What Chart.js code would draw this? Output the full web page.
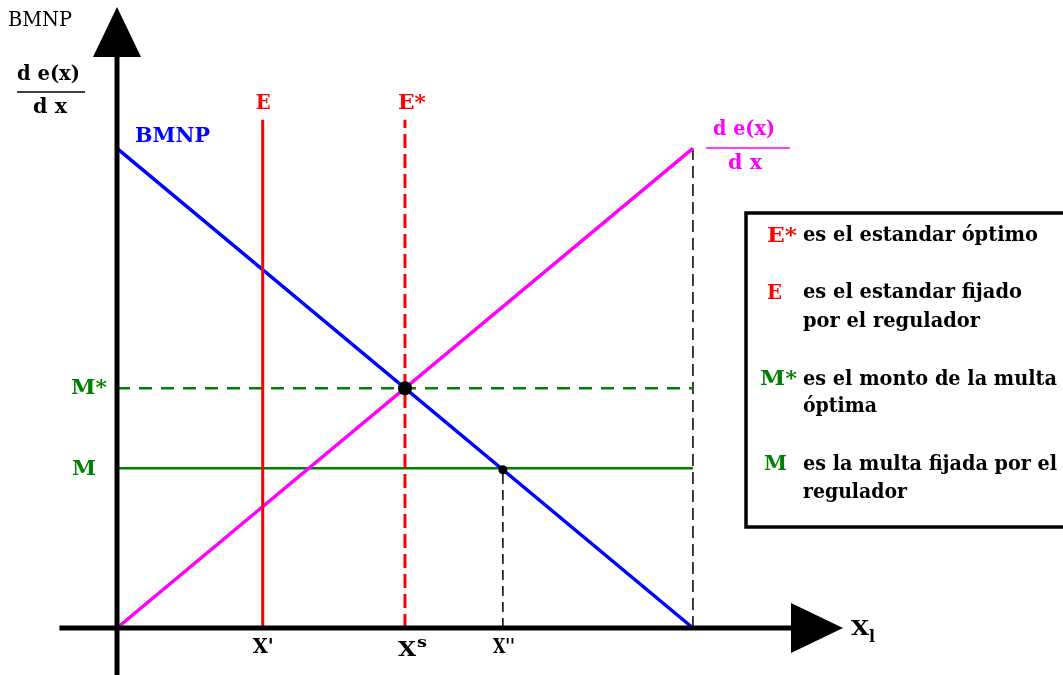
<!DOCTYPE html>
<html>
<head>
<meta charset="utf-8">
<script src="https://cdn.jsdelivr.net/npm/chart.js@4/dist/chart.umd.min.js"></script>
<style>
  html, body { margin: 0; padding: 0; background: #fff; }
  #wrap { position: relative; width: 1063px; height: 675px; }
</style>
</head>
<body>
<div id="wrap"><canvas id="c" width="1063" height="675"></canvas></div>
<script>
// valores (unidades del grafico, origen = 0,0)
const bmnpX = [0, 10];
const bmnpY = [10, 0];
const dedxX = [0, 10];
const dedxY = [0, 10];
const standards = [2.53, 5];          // E, E*
const standardTop = 10.6;
const fines = [3.33, 5];              // M, M*
const fineEnd = 10;
const xTicks = [2.53, 5, 6.7];        // X', Xs, X''
const xTickLabels = ["X'", 'X', "X''"];
const dots = [[5, 5], [6.7, 3.3]];
const xMax = 12.64, yMax = 12.95;

const SERIF = '"DejaVu Serif", "Liberation Serif", serif';
const pts = (xs, ys) => xs.map((x, i) => ({ x: x, y: ys[i] }));

const lineSet = (data, color, width, dash, order) => ({
    data: data, borderColor: color, borderWidth: width, borderDash: dash || [],
    pointRadius: 0, showLine: true, fill: false, clip: false, tension: 0, order: order || 0
});

const annot = {
    id: 'annot',
    afterDatasetsDraw(chart) {
        const { ctx, scales } = chart;
        const px = v => scales.x.getPixelForValue(v);
        const py = v => scales.y.getPixelForValue(v);
        ctx.save();
        // flechas de los ejes
        ctx.fillStyle = '#000';
        ctx.beginPath();
        ctx.moveTo(px(0), py(yMax));
        ctx.lineTo(px(0) - 24, py(yMax) + 50);
        ctx.lineTo(px(0) + 24, py(yMax) + 50);
        ctx.closePath(); ctx.fill();
        ctx.beginPath();
        ctx.moveTo(px(xMax) - 2, py(0));
        ctx.lineTo(px(xMax) - 54, py(0) - 25);
        ctx.lineTo(px(xMax) - 54, py(0) + 25);
        ctx.closePath(); ctx.fill();

        // texto con ancho objetivo (x = borde izquierdo)
        const txt = (s, x, y, color, size, w, weight) => {
            ctx.save();
            ctx.font = (weight || 'bold') + ' ' + size + 'px ' + SERIF;
            ctx.fillStyle = color;
            ctx.textAlign = 'left';
            ctx.textBaseline = 'middle';
            const m = ctx.measureText(s).width;
            ctx.translate(x, y);
            if (w) ctx.scale(w / m, 1);
            ctx.fillText(s, 0, 0);
            ctx.restore();
        };
        const rule = (x1, x2, y, color) => {
            ctx.strokeStyle = color; ctx.lineWidth = 1.5;
            ctx.beginPath(); ctx.moveTo(x1, y); ctx.lineTo(x2, y); ctx.stroke();
        };
        // titulo eje y
        txt('BMNP', 8, 21, '#000', 21, 64, 'normal');
        txt('d e(x)', 17, 75, '#000', 20, 63);
        rule(17, 85, 92, '#000');
        txt('d x', 33, 108, '#000', 20, 34);
        // etiquetas de curvas
        txt('BMNP', 135, 137, '#0000ff', 20, 75);
        txt('d e(x)', 713, 130, '#ff00ff', 20, 62);
        rule(706, 790, 148, '#ff00ff');
        txt('d x', 728, 164, '#ff00ff', 20, 34);
        txt('E', px(standards[0]) - 7, py(standardTop) - 16, '#ff0000', 20, 15);
        txt('E*', px(standards[1]) - 7, py(standardTop) - 16, '#ff0000', 20, 28);
        txt('M*', 71, py(fines[1]) + 1, '#007f00', 20, 36);
        txt('M', 72, py(fines[0]) + 1, '#007f00', 20, 24);
        // etiquetas eje x
        txt(xTickLabels[0], px(xTicks[0]) - 10, py(0) + 20, '#000', 20, 21);
        txt(xTickLabels[1], px(xTicks[1]) - 7, py(0) + 23, '#000', 20, 18);
        txt('s', px(xTicks[1]) + 12, py(0) + 15, '#000', 14, 10);
        txt(xTickLabels[2], px(xTicks[2]) - 10, py(0) + 20, '#000', 20, 22);
        txt('X', 851, py(0) + 2, '#000', 21, 18);
        txt('l', 869, py(0) + 10, '#000', 16, 6);
        // cuadro de leyenda
        ctx.strokeStyle = '#000'; ctx.lineWidth = 3.5;
        ctx.strokeRect(746, 213, 330, 314);
        txt('E*', 767, 237, '#ff0000', 20, 30);
        txt('es el estandar óptimo', 803, 236, '#000', 20, 235);
        txt('E', 767, 294, '#ff0000', 20, 15);
        txt('es el estandar fijado', 803, 293, '#000', 20, 219);
        txt('por el regulador', 803, 322, '#000', 20, 177);
        txt('M*', 760, 380, '#007f00', 20, 37);
        txt('es el monto de la multa', 803, 380, '#000', 20, 254);
        txt('óptima', 803, 407, '#000', 20, 74);
        txt('M', 764, 465, '#007f00', 20, 23);
        txt('es la multa fijada por el', 803, 465, '#000', 20, 254);
        txt('regulador', 803, 493, '#000', 20, 104);
        ctx.restore();
    }
};

new Chart(document.getElementById('c'), {
    type: 'scatter',
    data: {
        datasets: [
            lineSet([{ x: xTicks[2], y: 0 }, { x: xTicks[2], y: fines[0] }], '#000', 1.5, [10, 6], 5),
            lineSet([{ x: fineEnd, y: 0 }, { x: fineEnd, y: 10 }], '#000', 1.5, [12, 6], 5),
            lineSet([{ x: 0, y: fines[1] }, { x: fineEnd, y: fines[1] }], '#007f00', 2.5, [13, 9], 4),
            lineSet([{ x: 0, y: fines[0] }, { x: fineEnd, y: fines[0] }], '#007f00', 2.5, null, 4),
            lineSet(pts(dedxX, dedxY), '#ff00ff', 3.5, null, 3),
            lineSet(pts(bmnpX, bmnpY), '#0000ff', 3.5, null, 3),
            lineSet([{ x: standards[0], y: 0 }, { x: standards[0], y: standardTop }], '#ff0000', 3, null, 2),
            lineSet([{ x: standards[1], y: 0 }, { x: standards[1], y: standardTop }], '#ff0000', 3, [14, 6], 2),
            // ejes
            lineSet([{ x: 0, y: -1.0 }, { x: 0, y: yMax - 1 }], '#000', 5, null, 1),
            lineSet([{ x: -1.0, y: 0 }, { x: xMax - 0.9, y: 0 }], '#000', 5, null, 1),
            {
                data: dots.map(d => ({ x: d[0], y: d[1] })),
                pointRadius: [7, 4.5], pointBackgroundColor: '#000', pointBorderWidth: 0,
                showLine: false, clip: false, order: 0
            }
        ]
    },
    options: {
        responsive: false,
        animation: false,
        devicePixelRatio: 1,
        layout: { padding: { left: 117, right: 218, top: 5, bottom: 47 } },
        scales: {
            x: { type: 'linear', min: 0, max: xMax, display: false },
            y: { type: 'linear', min: 0, max: yMax, display: false }
        },
        plugins: { legend: { display: false }, tooltip: { enabled: false } }
    },
    plugins: [annot]
});
</script>
</body>
</html>
